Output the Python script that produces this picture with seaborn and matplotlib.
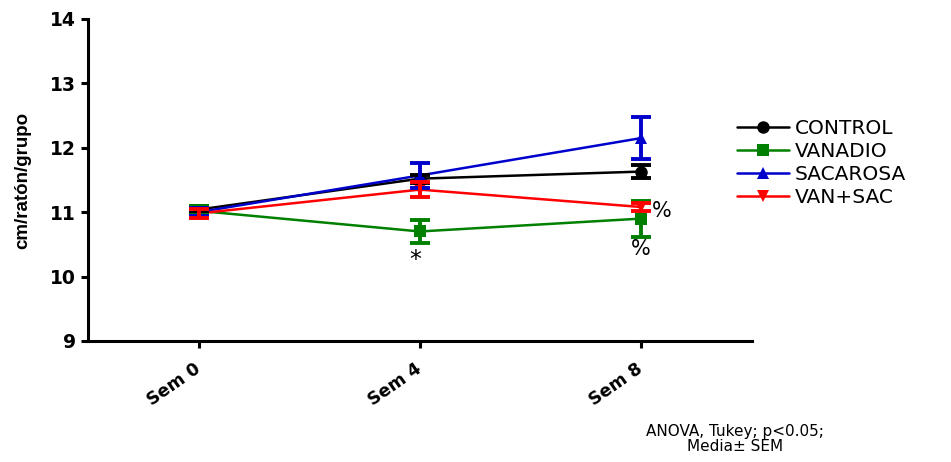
import numpy as np
import pandas as pd
import matplotlib
matplotlib.use("Agg")
import matplotlib.pyplot as plt
import seaborn as sns

# Datos (media ± SEM)
semanas = [0, 4, 8]
etiquetas_x = ["Sem 0", "Sem 4", "Sem 8"]
grupos = ["CONTROL", "VANADIO", "SACAROSA", "VAN+SAC"]

control = [11.04, 11.52, 11.63]
control_sem = [0.06, 0.06, 0.10]
vanadio = [11.02, 10.70, 10.90]
vanadio_sem = [0.07, 0.18, 0.28]
sacarosa = [11.00, 11.57, 12.15]
sacarosa_sem = [0.06, 0.20, 0.32]
vansac = [10.98, 11.35, 11.08]
vansac_sem = [0.07, 0.12, 0.06]

colores = ["black", "#008000", "#0000cc", "#ff0000"]
marcadores = ["o", "s", "^", "v"]

medias = [control, vanadio, sacarosa, vansac]
errores = [control_sem, vanadio_sem, sacarosa_sem, vansac_sem]

df = pd.DataFrame({
    "semana": semanas * 4,
    "valor": control + vanadio + sacarosa + vansac,
    "sem": control_sem + vanadio_sem + sacarosa_sem + vansac_sem,
    "grupo": np.repeat(grupos, 3),
})

sns.set_style("ticks", {"axes.edgecolor": "black", "text.color": "black",
                        "xtick.color": "black", "ytick.color": "black",
                        "axes.labelcolor": "black"})
plt.rcParams["font.family"] = ["DejaVu Sans"]

fig = plt.figure(figsize=(9.51, 4.62), dpi=100)
ax = fig.add_axes([0.0925, 0.262, 0.698, 0.697])

sns.lineplot(data=df, x="semana", y="valor", hue="grupo", style="grupo",
             hue_order=grupos, style_order=grupos, palette=colores,
             markers=marcadores, dashes=False, markersize=9,
             markeredgewidth=0, linewidth=1.8, ax=ax)

for m, e, c in zip(medias, errores, colores):
    ax.errorbar(semanas, m, yerr=e, fmt="none", ecolor=c, elinewidth=2.8,
                capsize=7, capthick=2.8, zorder=3)

ax.set_xlim(-2, 10)
ax.set_ylim(9, 14)
ax.set_yticks([9, 10, 11, 12, 13, 14])
ax.set_xticks(semanas)
ax.set_xticklabels(etiquetas_x, rotation=35, ha="right", va="center",
                   rotation_mode="anchor", fontsize=12.5, fontweight="bold")
for t in ax.get_yticklabels():
    t.set_fontsize(13.5)
    t.set_fontweight("bold")
ax.tick_params(axis="x", pad=14)
ax.set_xlabel("")
ax.set_ylabel("cm/ratón/grupo", fontsize=13.5, fontweight="bold",
              family=["Liberation Sans Narrow", "Liberation Sans"])
ax.yaxis.set_label_coords(-0.085, 0.5)

sns.despine(ax=ax)
for s in ["left", "bottom"]:
    ax.spines[s].set_linewidth(2.2)
ax.tick_params(width=2.2, length=5)

# Marcas de significancia
ax.text(3.92, 10.25, "*", ha="center", va="center", fontsize=17)
ax.text(8.2, 11.02, "%", ha="left", va="center", fontsize=15)
ax.text(8, 10.43, "%", ha="center", va="center", fontsize=15)

leg = ax.legend(loc="center left", bbox_to_anchor=(0.95, 0.553), frameon=False,
                fontsize=14.5, handlelength=2.6, labelspacing=0.2,
                handletextpad=0.3)

fig.text(0.773, 0.05, "ANOVA, Tukey; p<0.05;\nMedia± SEM", ha="center",
         va="center", fontsize=11, linespacing=1.0)

fig.savefig("out.png", dpi=100)
